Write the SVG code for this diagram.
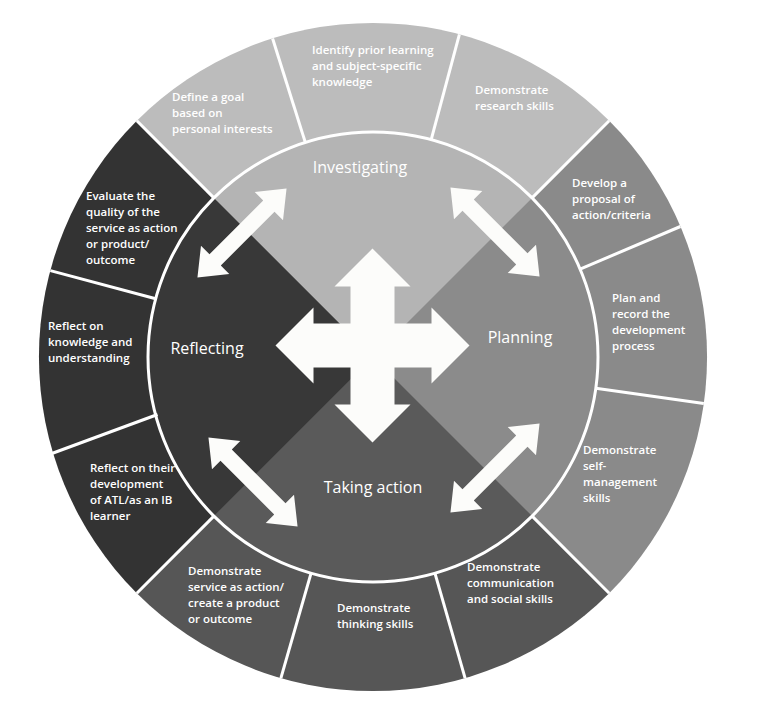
<svg xmlns="http://www.w3.org/2000/svg" width="763" height="709" viewBox="0 0 763 709">
<style>
text{font-family:"Open Sans","Liberation Sans",sans-serif;fill:#fff;font-size:11.5px;font-weight:600}
.t{font-size:16px;font-weight:400;text-anchor:middle}
.sep{stroke:#fff;stroke-width:3}
.arr{fill:#fcfcfa}
</style>
<defs>
<polygon id="da" points="-63,0 -38,-20 -38,-8 38,-8 38,-20 63,0 38,20 38,8 -38,8 -38,20"/>
</defs>
<rect width="763" height="709" fill="#fff"/>
<g id="ring">
<path d="M373,357 L136.8,120.8 A334,334 0 0 1 609.2,120.8 Z" fill="#bcbcbc"/>
<path d="M373,357 L609.2,120.8 A334,334 0 0 1 609.2,593.2 Z" fill="#8a8a8a"/>
<path d="M373,357 L609.2,593.2 A334,334 0 0 1 136.8,593.2 Z" fill="#565656"/>
<path d="M373,357 L136.8,593.2 A334,334 0 0 1 136.8,120.8 Z" fill="#333"/>
</g>
<g id="inner">
<path d="M373,357 L213.9,197.9 A225,225 0 0 1 532.1,197.9 Z" fill="#b4b4b4"/>
<path d="M373,357 L532.1,197.9 A225,225 0 0 1 532.1,516.1 Z" fill="#8b8b8b"/>
<path d="M373,357 L532.1,516.1 A225,225 0 0 1 213.9,516.1 Z" fill="#5a5a5a"/>
<path d="M373,357 L213.9,516.1 A225,225 0 0 1 213.9,197.9 Z" fill="#383838"/>
<circle cx="373" cy="357" r="225" fill="none" stroke="#fff" stroke-width="3"/>
</g>
<g id="separators" class="sep">
<line x1="213.9" y1="197.9" x2="136.8" y2="120.8"/>
<line x1="532.1" y1="197.9" x2="609.2" y2="120.8"/>
<line x1="532.1" y1="516.1" x2="609.2" y2="593.2"/>
<line x1="213.9" y1="516.1" x2="136.8" y2="593.2"/>
<line x1="305.3" y1="142.4" x2="272.6" y2="38.5"/>
<line x1="431.2" y1="139.7" x2="459.4" y2="34.4"/>
<line x1="580.1" y1="269.1" x2="680.4" y2="226.5"/>
<line x1="595.8" y1="388.3" x2="703.8" y2="403.5"/>
<line x1="435" y1="573.3" x2="465.1" y2="678.1"/>
<line x1="311" y1="573.3" x2="280.9" y2="678.1"/>
<line x1="157.5" y1="414.5" x2="50.5" y2="454"/>
<line x1="155.7" y1="298.8" x2="50.4" y2="270.6"/>
</g>
<g id="connectors">
<polygon class="arr" transform="translate(372.5,345.5)" points="0,-97 38,-59 22,-59 22,-22 59,-22 59,-38 97,0 59,38 59,22 22,22 22,59 38,59 0,97 -38,59 -22,59 -22,22 -59,22 -59,38 -97,0 -59,-38 -59,-22 -22,-22 -22,-59 -38,-59"/>
<use href="#da" class="arr" transform="translate(242,233) rotate(-45)"/>
<use href="#da" class="arr" transform="translate(495,232) rotate(45)"/>
<use href="#da" class="arr" transform="translate(495,468) rotate(-45)"/>
<use href="#da" class="arr" transform="translate(253,482) rotate(45)"/>
</g>
<g id="investigating"><text class="t" x="360" y="173">Investigating</text></g>
<g id="planning"><text class="t" x="520" y="343">Planning</text></g>
<g id="taking-action"><text class="t" x="373" y="493">Taking action</text></g>
<g id="reflecting"><text class="t" x="207" y="354">Reflecting</text></g>
<g id="s1"><text x="172" y="101">Define a goal<tspan x="172" dy="16">based on</tspan><tspan x="172" dy="16">personal interests</tspan></text></g>
<g id="s2"><text x="312" y="54">Identify prior learning<tspan x="312" dy="16">and subject-specific</tspan><tspan x="312" dy="16">knowledge</tspan></text></g>
<g id="s3"><text x="475" y="94">Demonstrate<tspan x="475" dy="16">research skills</tspan></text></g>
<g id="s4"><text x="572" y="187">Develop a<tspan x="572" dy="16">proposal of</tspan><tspan x="572" dy="16">action/criteria</tspan></text></g>
<g id="s5"><text x="612" y="302">Plan and<tspan x="612" dy="16">record the</tspan><tspan x="612" dy="16">development</tspan><tspan x="612" dy="16">process</tspan></text></g>
<g id="s6"><text x="583" y="454">Demonstrate<tspan x="583" dy="16">self-</tspan><tspan x="583" dy="16">management</tspan><tspan x="583" dy="16">skills</tspan></text></g>
<g id="s7"><text x="467" y="571">Demonstrate<tspan x="467" dy="16">communication</tspan><tspan x="467" dy="16">and social skills</tspan></text></g>
<g id="s8"><text x="337" y="612">Demonstrate<tspan x="337" dy="16">thinking skills</tspan></text></g>
<g id="s9"><text x="188" y="575">Demonstrate<tspan x="188" dy="16">service as action/</tspan><tspan x="188" dy="16">create a product</tspan><tspan x="188" dy="16">or outcome</tspan></text></g>
<g id="s10"><text x="90" y="472">Reflect on their<tspan x="90" dy="16">development</tspan><tspan x="90" dy="16">of ATL/as an IB</tspan><tspan x="90" dy="16">learner</tspan></text></g>
<g id="s11"><text x="48" y="330">Reflect on<tspan x="48" dy="16">knowledge and</tspan><tspan x="48" dy="16">understanding</tspan></text></g>
<g id="s12"><text x="86" y="200">Evaluate the<tspan x="86" dy="16">quality of the</tspan><tspan x="86" dy="16">service as action</tspan><tspan x="86" dy="16">or product/</tspan><tspan x="86" dy="16">outcome</tspan></text></g>
</svg>
